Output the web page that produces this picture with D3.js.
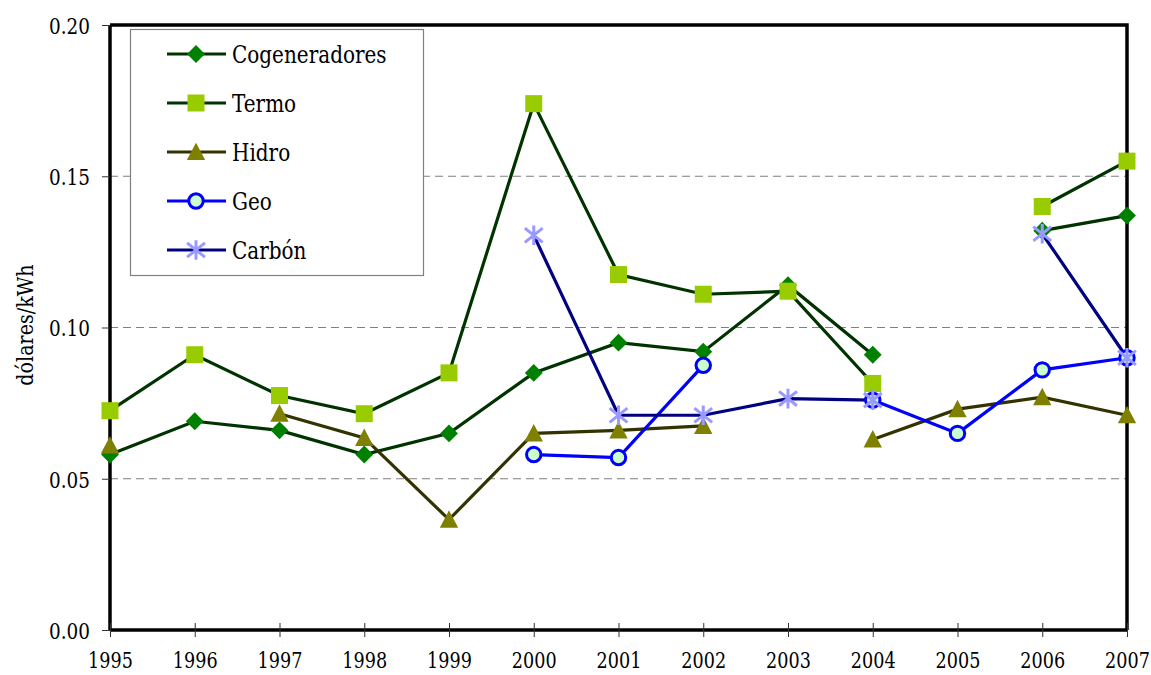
<!DOCTYPE html>
<html><head><meta charset="utf-8">
<script src="https://cdn.jsdelivr.net/npm/d3@7"></script>
<style>
body{margin:0;background:#fff;}
svg{display:block;}
</style>
</head><body>
<svg id="c" width="1151" height="675"></svg>
<script>
const years = [1995,1996,1997,1998,1999,2000,2001,2002,2003,2004,2005,2006,2007];
const yTicks = [0, 0.05, 0.10, 0.15, 0.20];
const cogeneradores = [0.058,0.069,0.066,0.058,0.065,0.085,0.095,0.092,0.114,0.091,null,0.132,0.137];
const termo         = [0.0725,0.091,0.0775,0.0715,0.085,0.174,0.1175,0.111,0.112,0.0815,null,0.140,0.155];
const hidro         = [0.061,null,0.0715,0.0635,0.0365,0.065,0.066,0.0675,null,0.063,0.073,0.077,0.071];
const geo           = [null,null,null,null,null,0.058,0.057,0.0875,null,0.076,0.065,0.086,0.090];
const carbon        = [null,null,null,null,null,0.1305,0.071,0.071,0.0765,0.076,null,0.131,0.090];
const seriesNames = ["Cogeneradores","Termo","Hidro","Geo","Carbón"];

const series = [
  {name:seriesNames[0], values:cogeneradores, line:"#003300", fill:"#008000", stroke:"none", shape:"diamond"},
  {name:seriesNames[1], values:termo, line:"#003300", fill:"#99cc00", stroke:"none", shape:"square"},
  {name:seriesNames[2], values:hidro, line:"#333300", fill:"#808000", stroke:"none", shape:"triangle"},
  {name:seriesNames[3], values:geo, line:"#0000ff", fill:"#ccffcc", stroke:"#0000ff", shape:"circle"},
  {name:seriesNames[4], values:carbon, line:"#000080", fill:"none", stroke:"#9999ff", shape:"star"}
];

const svg = d3.select("#c");
const L=110, R=1127, T=25, B=630;
const x = d3.scaleLinear().domain([1995,2007]).range([L,R]);
const y = d3.scaleLinear().domain([0,0.20]).range([B,T]);
const font = "DejaVu Serif";
const SX = 0.8; // horizontal condensing to mimic Times proportions

// gridlines
svg.append("g").selectAll("line").data([0.05,0.10,0.15]).join("line")
  .attr("x1",L).attr("x2",R).attr("y1",d=>y(d)).attr("y2",d=>y(d))
  .attr("stroke","#808080").attr("stroke-width",1.2).attr("stroke-dasharray","8,5");

// frame top/right
svg.append("path").attr("d",`M${L},${T}H${R}V${B}`).attr("fill","none").attr("stroke","#000").attr("stroke-width",3.5);

// y axis
const yAxis = d3.axisLeft(y).tickValues(yTicks).tickFormat(d3.format(".2f")).tickSize(8);
const ga = svg.append("g").attr("transform",`translate(${L},0)`).call(yAxis);
ga.attr("font-family",font).attr("font-size",23);
ga.select(".domain").attr("stroke-width",3.5).attr("d",`M0,${T}V${B}`);
ga.selectAll(".tick line").attr("stroke","#333").attr("stroke-width",1);
ga.selectAll("text").attr("fill","#000").attr("x",-20/SX).attr("dy","0.36em")
  .attr("transform",`scale(${SX},1)`);

// x axis
const xAxis = d3.axisBottom(x).tickValues(years).tickFormat(d3.format("d")).tickSize(7);
const gx = svg.append("g").attr("transform",`translate(0,${B})`).call(xAxis);
gx.attr("font-family",font).attr("font-size",22);
gx.select(".domain").attr("stroke-width",3.5).attr("d",`M${L},0H${R}`);
gx.selectAll(".tick line").attr("stroke","#333").attr("stroke-width",1).attr("y1",-7);
gx.selectAll("text").attr("fill","#000").attr("y",38).attr("dy",0)
  .attr("transform",`scale(${SX},1)`);

// y label
svg.append("text").attr("transform",`translate(33,325) rotate(-90) scale(0.83,1)`).attr("text-anchor","middle")
  .attr("font-family",font).attr("font-size",23).text("dólares/kWh");

function marker(g, shape, s){
  if(shape==="diamond"){
    g.append("path").attr("d",`M0,${-s*1.05}L${s*1.05},0L0,${s*1.05}L${-s*1.05},0Z`);
  } else if(shape==="square"){
    g.append("rect").attr("x",-s).attr("y",-s).attr("width",2*s).attr("height",2*s);
  } else if(shape==="triangle"){
    g.append("path").attr("d",`M0,${-s*1.1}L${s*1.08},${s*0.95}L${-s*1.08},${s*0.95}Z`);
  } else if(shape==="circle"){
    g.append("circle").attr("r",s*0.85).attr("stroke-width",3);
  } else if(shape==="star"){
    const r=s*1.05;
    g.append("path").attr("d",`M${-r},${-r*0.8}L${r},${r*0.8}M${-r},${r*0.8}L${r},${-r*0.8}M0,${-r*1.1}V${r*1.1}`).attr("stroke-width",3);
  }
}

const line = d3.line().defined(d=>d.v!=null).x(d=>x(d.yr)).y(d=>y(d.v));
series.forEach(s=>{
  const pts = years.map((yr,i)=>({yr, v:s.values[i]}));
  svg.append("path").datum(pts).attr("d",line).attr("fill","none")
    .attr("stroke",s.line).attr("stroke-width",3.2);
});
series.forEach(s=>{
  const pts = years.map((yr,i)=>({yr, v:s.values[i]})).filter(d=>d.v!=null);
  pts.forEach(d=>{
    const g = svg.append("g").attr("transform",`translate(${x(d.yr)},${y(d.v)})`)
      .attr("fill",s.fill).attr("stroke",s.stroke);
    marker(g,s.shape,8.5);
  });
});

// legend
const lg = svg.append("g");
lg.append("rect").attr("x",130.5).attr("y",29.5).attr("width",293).attr("height",246)
  .attr("fill","#fff").attr("stroke","#808080").attr("stroke-width",1.2);
series.forEach((s,i)=>{
  const cy = 54 + i*49;
  lg.append("line").attr("x1",167).attr("x2",226).attr("y1",cy).attr("y2",cy)
    .attr("stroke",s.line).attr("stroke-width",3.2);
  const g = lg.append("g").attr("transform",`translate(196,${cy})`).attr("fill",s.fill).attr("stroke",s.stroke);
  marker(g,s.shape,8.5);
  lg.append("text").attr("transform",`translate(232,${cy+9}) scale(${SX},1)`)
    .attr("font-family",font).attr("font-size",25).text(s.name);
});
</script>
</body></html>
